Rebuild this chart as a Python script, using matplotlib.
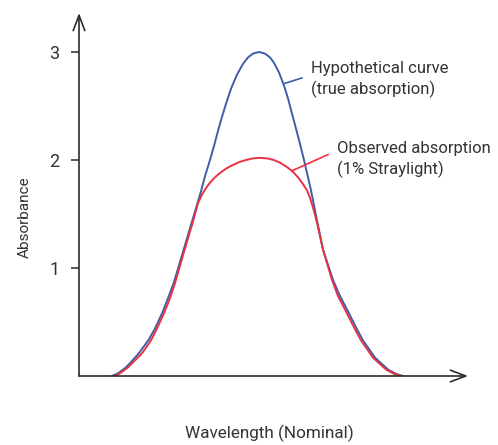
import matplotlib
matplotlib.use("Agg")
import matplotlib.pyplot as plt

# --- Data (wavelength in arbitrary nominal units) ---
true_wl = [33, 39, 47, 59, 70, 76, 83, 89, 95, 104, 113, 122, 126, 131, 135,
           139, 143, 147, 152, 158, 164, 169, 174, 180, 186, 191, 195, 200, 205,
           209, 213, 217, 221, 225, 232, 238, 244, 254, 261, 270, 277, 284, 296,
           309, 317, 324]
true_abs = [0, 0.025, 0.08, 0.20, 0.34, 0.44, 0.58, 0.72, 0.87, 1.15, 1.43,
            1.71, 1.85, 2.0, 2.13, 2.27, 2.40, 2.52, 2.66, 2.79, 2.89, 2.95,
            2.985, 3.0, 2.985, 2.95, 2.90, 2.81, 2.69, 2.57, 2.43, 2.29, 2.15,
            2.0, 1.72, 1.44, 1.17, 0.89, 0.74, 0.58, 0.45, 0.33, 0.17, 0.06,
            0.02, 0]

obs_wl = [35, 41, 49, 63, 72, 78, 85, 91, 96, 105, 114, 119, 123, 127, 131,
          136, 141, 147, 153, 160, 167, 174, 181, 188, 195, 201, 208, 214, 219,
          223, 228, 231, 234, 238, 244, 253, 259, 268, 275, 282, 294, 307, 315,
          322]
obs_abs = [0, 0.025, 0.08, 0.21, 0.33, 0.44, 0.58, 0.72, 0.86, 1.15, 1.43,
           1.60, 1.68, 1.74, 1.79, 1.84, 1.88, 1.92, 1.95, 1.98, 2.00, 2.015,
           2.02, 2.015, 2.00, 1.975, 1.935, 1.89, 1.84, 1.79, 1.72, 1.65, 1.56,
           1.42, 1.17, 0.89, 0.74, 0.58, 0.45, 0.33, 0.17, 0.06, 0.02, 0]

y_ticks = [1, 2, 3]
true_label = ["Hypothetical curve", "(true absorption)"]
obs_label = ["Observed absorption", "(1% Straylight)"]

BLUE = "#3d5ea8"
RED = "#e8323f"
AXIS = "#2b2b2b"
TEXT = "#333333"

plt.rcParams["font.family"] = ["Roboto", "DejaVu Sans"]

W, H = 498, 445
fig = plt.figure(figsize=(W / 100, H / 100), dpi=100)
ax = fig.add_axes([79 / W, (H - 376) / H, (468 - 79) / W, (376 - 13) / H])
ax.set_xlim(0, 389)
ax.set_ylim(0, 363 / 108)

ax.plot(true_wl, true_abs, color=BLUE, lw=1.4, solid_joinstyle="round")
ax.plot(obs_wl, obs_abs, color=RED, lw=1.4, solid_joinstyle="round")

# leader lines and labels
ax.plot([206, 223], [2.71, 2.76], color=BLUE, lw=1.2)
ax.plot([213, 249], [1.90, 2.05], color=RED, lw=1.2)
ax.text(232, 2.85, true_label[0], fontsize=12, color=TEXT, va="center", ha="left")
ax.text(232, 2.65, true_label[1], fontsize=12, color=TEXT, va="center", ha="left")
ax.text(258, 2.11, obs_label[0], fontsize=12, color=TEXT, va="center", ha="left")
ax.text(258, 1.91, obs_label[1], fontsize=12, color=TEXT, va="center", ha="left")

# axes with open arrow heads
for s in ax.spines.values():
    s.set_visible(False)
arrow = dict(arrowstyle="->,head_length=1.1,head_width=0.42", lw=1.2,
             color=AXIS, shrinkA=0, shrinkB=0)
ax.annotate("", xy=(1, 0), xytext=(0, 0), xycoords="axes fraction",
            arrowprops=arrow)
ax.annotate("", xy=(0, 1), xytext=(0, 0), xycoords="axes fraction",
            arrowprops=arrow)

ax.set_xticks([])
ax.set_yticks(y_ticks)
ax.set_yticklabels([str(t) for t in y_ticks])
ax.tick_params(axis="y", direction="out", length=6, width=1.1, color=AXIS,
               pad=8, labelsize=13, labelcolor=TEXT)

fig.text(25 / W, 1 - 217 / H, "Absorbance", rotation=90, ha="center",
         va="center", fontsize=11, color=TEXT)
fig.text(269 / W, 1 - 433 / H, "Wavelength (Nominal)", ha="center",
         va="center", fontsize=12.3, color=TEXT)

fig.savefig("out.png", dpi=100)
